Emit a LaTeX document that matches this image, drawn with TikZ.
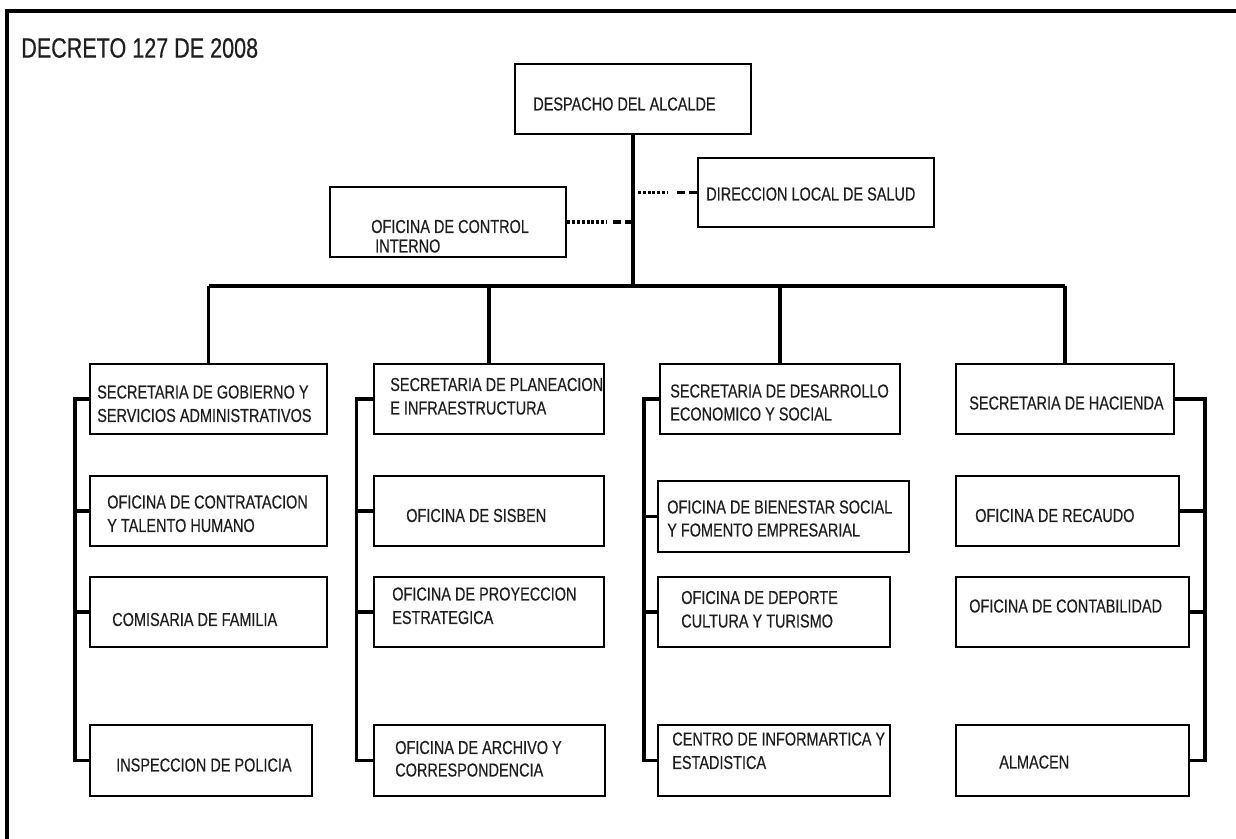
\documentclass[tikz,border=0pt]{standalone}
\usepackage{fontspec}
\setmainfont{Liberation Sans}[FakeStretch=0.77,FakeBold=0.4]
\newcommand{\orgbox}[5]{\node[obox, minimum width={(#4-#2)*0.75pt}, minimum height={(#5-#3)*0.75pt}] (#1) at ({(#2+#4)/2},{(#3+#5)/2}) {};}
\newcommand{\orgtext}[4]{\node[otxt] (#1) at (#2,#3) {#4};}
\begin{document}
\begin{tikzpicture}[x=0.75pt,y=-0.75pt,
  obox/.style={draw=black, line width=2.2pt, inner sep=0pt},
  otxt/.style={inner sep=0pt, anchor=west, text=black!88, font=\fontsize{14.1}{17}\selectfont},
  conn/.style={line width=2.3pt},
  dotline/.style={line width=2.3pt, dash pattern=on 2.2pt off 1.4pt},
  dashline/.style={line width=2.3pt, dash pattern=on 6pt off 3pt}]
\useasboundingbox (0,0) rectangle (1236,839);
% frame
\draw[line width=2.4pt] (7,839) |- (1236,11);
\node[otxt, font=\fontsize{21}{25}\selectfont] (title) at (21,48) {DECRETO 127 DE 2008};

% top level
\orgbox{despacho}{515}{64}{751}{134}
\orgtext{tdesp}{533}{104}{DESPACHO DEL ALCALDE}
\orgbox{salud}{698}{158}{934}{227}
\orgtext{tsalud}{706}{194}{DIRECCION LOCAL DE SALUD}
\orgbox{control}{330}{187}{566}{257}
\orgtext{tcontrolA}{371}{226.5}{OFICINA DE CONTROL}
\orgtext{tcontrolB}{375}{246}{INTERNO}

% column 1
\orgbox{c1r1}{90}{364}{327}{434}
\orgtext{t11a}{97}{392}{SECRETARIA DE GOBIERNO Y}
\orgtext{t11b}{97}{415.5}{SERVICIOS ADMINISTRATIVOS}
\orgbox{c1r2}{90}{476}{327}{546}
\orgtext{t12a}{107}{502}{OFICINA DE CONTRATACION}
\orgtext{t12b}{107}{525.5}{Y TALENTO HUMANO}
\orgbox{c1r3}{90}{577}{327}{647}
\orgtext{t13}{112}{619.5}{COMISARIA DE FAMILIA}
\orgbox{c1r4}{90}{725}{312}{796}
\orgtext{t14}{116}{765}{INSPECCION DE POLICIA}

% column 2
\orgbox{c2r1}{374}{364}{604}{434}
\orgtext{t21a}{390}{384.5}{SECRETARIA DE PLANEACION}
\orgtext{t21b}{390}{408}{E INFRAESTRUCTURA}
\orgbox{c2r2}{374}{476}{604}{546}
\orgtext{t22}{406}{515.5}{OFICINA DE SISBEN}
\orgbox{c2r3}{374}{577}{604}{647}
\orgtext{t23a}{392}{594}{OFICINA DE PROYECCION}
\orgtext{t23b}{392}{617.5}{ESTRATEGICA}
\orgbox{c2r4}{374}{725}{605}{796}
\orgtext{t24a}{395}{747.5}{OFICINA DE ARCHIVO Y}
\orgtext{t24b}{395}{770}{CORRESPONDENCIA}

% column 3
\orgbox{c3r1}{660}{364}{900}{434}
\orgtext{t31a}{670}{391}{SECRETARIA DE DESARROLLO}
\orgtext{t31b}{670}{414}{ECONOMICO Y SOCIAL}
\orgbox{c3r2}{658}{481}{909}{552}
\orgtext{t32a}{667}{507}{OFICINA DE BIENESTAR SOCIAL}
\orgtext{t32b}{667}{530}{Y FOMENTO EMPRESARIAL}
\orgbox{c3r3}{658}{577}{890}{647}
\orgtext{t33a}{681}{597.5}{OFICINA DE DEPORTE}
\orgtext{t33b}{681}{621}{CULTURA Y TURISMO}
\orgbox{c3r4}{658}{725}{890}{796}
\orgtext{t34a}{672}{739}{CENTRO DE INFORMARTICA Y}
\orgtext{t34b}{672}{762.5}{ESTADISTICA}

% column 4
\orgbox{c4r1}{956}{364}{1174}{434}
\orgtext{t41}{969}{403}{SECRETARIA DE HACIENDA}
\orgbox{c4r2}{956}{476}{1179}{546}
\orgtext{t42}{975}{515.5}{OFICINA DE RECAUDO}
\orgbox{c4r3}{956}{577}{1189}{647}
\orgtext{t43}{969}{606}{OFICINA DE CONTABILIDAD}
\orgbox{c4r4}{956}{725}{1189}{796}
\orgtext{t44}{999}{762}{ALMACEN}

% connectors
\coordinate (bus) at (0,286);
\coordinate (s1) at (75,0);
\coordinate (s2) at (356.5,0);
\coordinate (s3) at (644,0);
\coordinate (s4) at (1205,0);
\draw[conn] (despacho.south) -- (despacho.south |- bus);
\draw[conn] (c1r1.north |- bus) -- (c4r1.north |- bus);
\foreach \c in {c1r1,c2r1,c3r1,c4r1}{\draw[conn] (\c.north) -- (\c.north |- bus);}
\draw[conn] (c1r1.west) -- (c1r1.west -| s1) -- (c1r4.west -| s1) -- (c1r4.west);
\foreach \c in {c1r2,c1r3}{\draw[conn] (\c.west) -- (\c.west -| s1);}
\draw[conn] (c2r1.west) -- (c2r1.west -| s2) -- (c2r4.west -| s2) -- (c2r4.west);
\foreach \c in {c2r2,c2r3}{\draw[conn] (\c.west) -- (\c.west -| s2);}
\draw[conn] (c3r1.west) -- (c3r1.west -| s3) -- (c3r4.west -| s3) -- (c3r4.west);
\foreach \c in {c3r2,c3r3}{\draw[conn] (\c.west) -- (\c.west -| s3);}
\draw[conn] (c4r1.east) -- (c4r1.east -| s4) -- (c4r4.east -| s4) -- (c4r4.east);
\foreach \c in {c4r2,c4r3}{\draw[conn] (\c.east) -- (\c.east -| s4);}

% dotted staff links
\draw[dotline] (control.east) -- ++(39,0);
\draw[dashline] (control.east -| despacho.south) -- ++(-22,0);
\draw[dotline] (salud.west -| despacho.south) ++(5,0) -- ++(30,0);
\draw[dashline] (salud.west) -- ++(-24,0);
\end{tikzpicture}
\end{document}
